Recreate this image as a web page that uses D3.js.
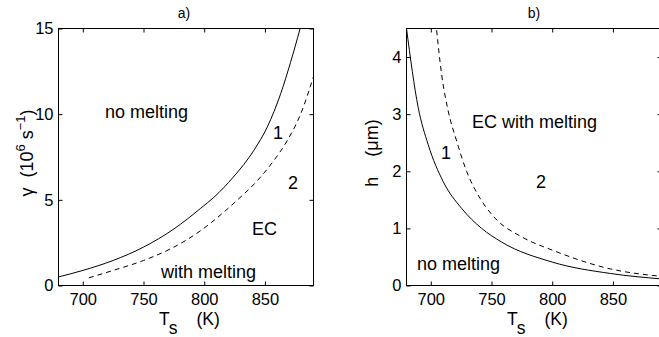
<!DOCTYPE html>
<html>
<head>
<meta charset="utf-8">
<script src="https://cdn.jsdelivr.net/npm/d3@7"></script>
<style>
  html, body { margin: 0; padding: 0; background: #fff; }
  svg { display: block; }
  text { font-family: "Liberation Sans", Arial, Helvetica, sans-serif; fill: #000; }
</style>
</head>
<body>
<svg id="chart" width="659" height="337"></svg>
<script>
// ---------------- data ----------------
// panel a) gamma (10^6 s^-1) vs Ts (K)
const aCurve1T = [680, 700, 725, 750, 775, 797, 808, 824, 841, 852, 863, 871, 879];
const aCurve1G = [0.5, 0.88, 1.46, 2.24, 3.3, 4.5, 5.15, 6.33, 7.9, 9.26, 11.2, 13.0, 15.0];
const aCurve2T = [705, 725, 750, 775, 797, 808, 827, 844, 857.5, 868.6, 879.6, 890];
const aCurve2G = [0.45, 0.88, 1.46, 2.24, 3.2, 3.8, 4.97, 6.14, 7.31, 8.48, 10.04, 12.2];
// panel b) h (um) vs Ts (K)
const bCurve1T = [680, 689.6, 697.8, 710.2, 725.4, 741.9, 758.4, 800, 848, 890];
const bCurve1H = [4.5, 3.12, 2.47, 1.82, 1.35, 1.0, 0.76, 0.41, 0.21, 0.115];
const bCurve2T = [704.8, 708.9, 714.3, 721.3, 729.5, 740.5, 752.9, 775, 800, 848, 890];
const bCurve2H = [4.47, 3.7, 3.06, 2.53, 2.0, 1.53, 1.18, 0.85, 0.62, 0.29, 0.16];

const xTicks = [700, 750, 800, 850];
const aYTicks = [0, 5, 10, 15];
const bYTicks = [0, 1, 2, 3, 4];
const xDomain = [680, 890];
const aYDomain = [0, 15];
const bYDomain = [0, 4.5];

// ---------------- drawing ----------------
const svg = d3.select("#chart");

function panel(opts) {
  const { left, right, top, bottom, yDomain, yTicks, curves } = opts;
  const x = d3.scaleLinear().domain(xDomain).range([left, right]);
  const y = d3.scaleLinear().domain(yDomain).range([bottom, top]);
  const g = svg.append("g");

  const clipId = "clip" + opts.id;
  svg.append("clipPath").attr("id", clipId)
    .append("rect").attr("x", left).attr("y", top)
    .attr("width", right - left).attr("height", bottom - top);

  const line = d3.line().x(d => x(d[0])).y(d => y(d[1])).curve(d3.curveMonotoneX);
  curves.forEach(c => {
    g.append("path")
      .attr("clip-path", `url(#${clipId})`)
      .attr("d", line(c.t.map((t, i) => [t, c.v[i]])))
      .attr("fill", "none")
      .attr("stroke", "#000")
      .attr("stroke-width", 1)
      .attr("stroke-dasharray", c.dash ? "5,4" : null);
  });

  const tickFont = "16.5px";
  const fmt = d3.format("d");
  // bottom axis
  const xb = g.append("g").attr("transform", `translate(0,${bottom})`)
    .call(d3.axisBottom(x).tickValues(xTicks).tickFormat(fmt).tickSizeInner(-4).tickSizeOuter(0).tickPadding(8));
  xb.selectAll("text").style("font-size", tickFont).attr("dy", "0.71em");
  // top axis
  g.append("g").attr("transform", `translate(0,${top})`)
    .call(d3.axisTop(x).tickValues(xTicks).tickSizeInner(-4).tickSizeOuter(0).tickFormat(""));
  // left axis
  const yl = g.append("g").attr("transform", `translate(${left},0)`)
    .call(d3.axisLeft(y).tickValues(yTicks).tickFormat(fmt).tickSizeInner(-4).tickSizeOuter(0).tickPadding(5));
  yl.selectAll("text").style("font-size", tickFont);
  // right axis
  g.append("g").attr("transform", `translate(${right},0)`)
    .call(d3.axisRight(y).tickValues(yTicks).tickSizeInner(-4).tickSizeOuter(0).tickFormat(""));
  g.selectAll(".domain").remove();
  g.selectAll(".tick line").attr("stroke", "#000");

  g.append("rect").attr("x", left).attr("y", top)
    .attr("width", right - left).attr("height", bottom - top)
    .attr("fill", "none").attr("stroke", "#000").attr("stroke-width", 1);

  // x-axis label T_s (K)
  const xl = g.append("text").attr("x", x(xDomain[0]) + 100.5).attr("y", 325).style("font-size", "17.5px");
  xl.append("tspan").text("T");
  xl.append("tspan").attr("dy", 9).attr("dx", 1).text("s");
  g.append("text").attr("x", x(xDomain[0]) + 138).attr("y", 325).style("font-size", "17.5px").text("(K)");

  return { g, x, y };
}

// panel a
const A = panel({
  id: "a", left: 58.5, right: 313.5, top: 28.5, bottom: 285.5,
  yDomain: aYDomain, yTicks: aYTicks,
  curves: [{ t: aCurve1T, v: aCurve1G, dash: false }, { t: aCurve2T, v: aCurve2G, dash: true }]
});
// panel b
const B = panel({
  id: "b", left: 406.5, right: 661.5, top: 28.5, bottom: 285.5,
  yDomain: bYDomain, yTicks: bYTicks,
  curves: [{ t: bCurve1T, v: bCurve1H, dash: false }, { t: bCurve2T, v: bCurve2H, dash: true }]
});

// titles
svg.append("text").attr("x", 184).attr("y", 18).attr("text-anchor", "middle").style("font-size", "14px").text("a)");
svg.append("text").attr("x", 534).attr("y", 18).attr("text-anchor", "middle").style("font-size", "14px").text("b)");

// panel annotations
const ann = (g, x, y, s, size) => g.append("text").attr("x", x).attr("y", y).style("font-size", size || "18px").text(s);
ann(A.g, 105, 118, "no melting");
ann(A.g, 273, 139, "1");
ann(A.g, 288, 189, "2");
ann(A.g, 252, 235, "EC");
ann(A.g, 161, 278, "with melting");
ann(B.g, 472, 128, "EC with melting");
ann(B.g, 441, 159, "1");
ann(B.g, 536, 188, "2");
ann(B.g, 417, 270, "no melting");

// y-axis labels
const ya = svg.append("text").attr("transform", "translate(33,153) rotate(-90)")
  .attr("text-anchor", "middle").style("font-size", "18px").style("white-space", "pre");
ya.append("tspan").text("γ  (10");
ya.append("tspan").attr("dy", -8).style("font-size", "13px").text("6");
ya.append("tspan").attr("dy", 8).text(" s");
ya.append("tspan").attr("dy", -8).style("font-size", "13px").text("−1");
ya.append("tspan").attr("dy", 8).text(")");

svg.append("text").attr("transform", "translate(378,153) rotate(-90)")
  .attr("text-anchor", "middle").style("font-size", "18px").style("white-space", "pre")
  .text("h    (μm)");
</script>
</body>
</html>
